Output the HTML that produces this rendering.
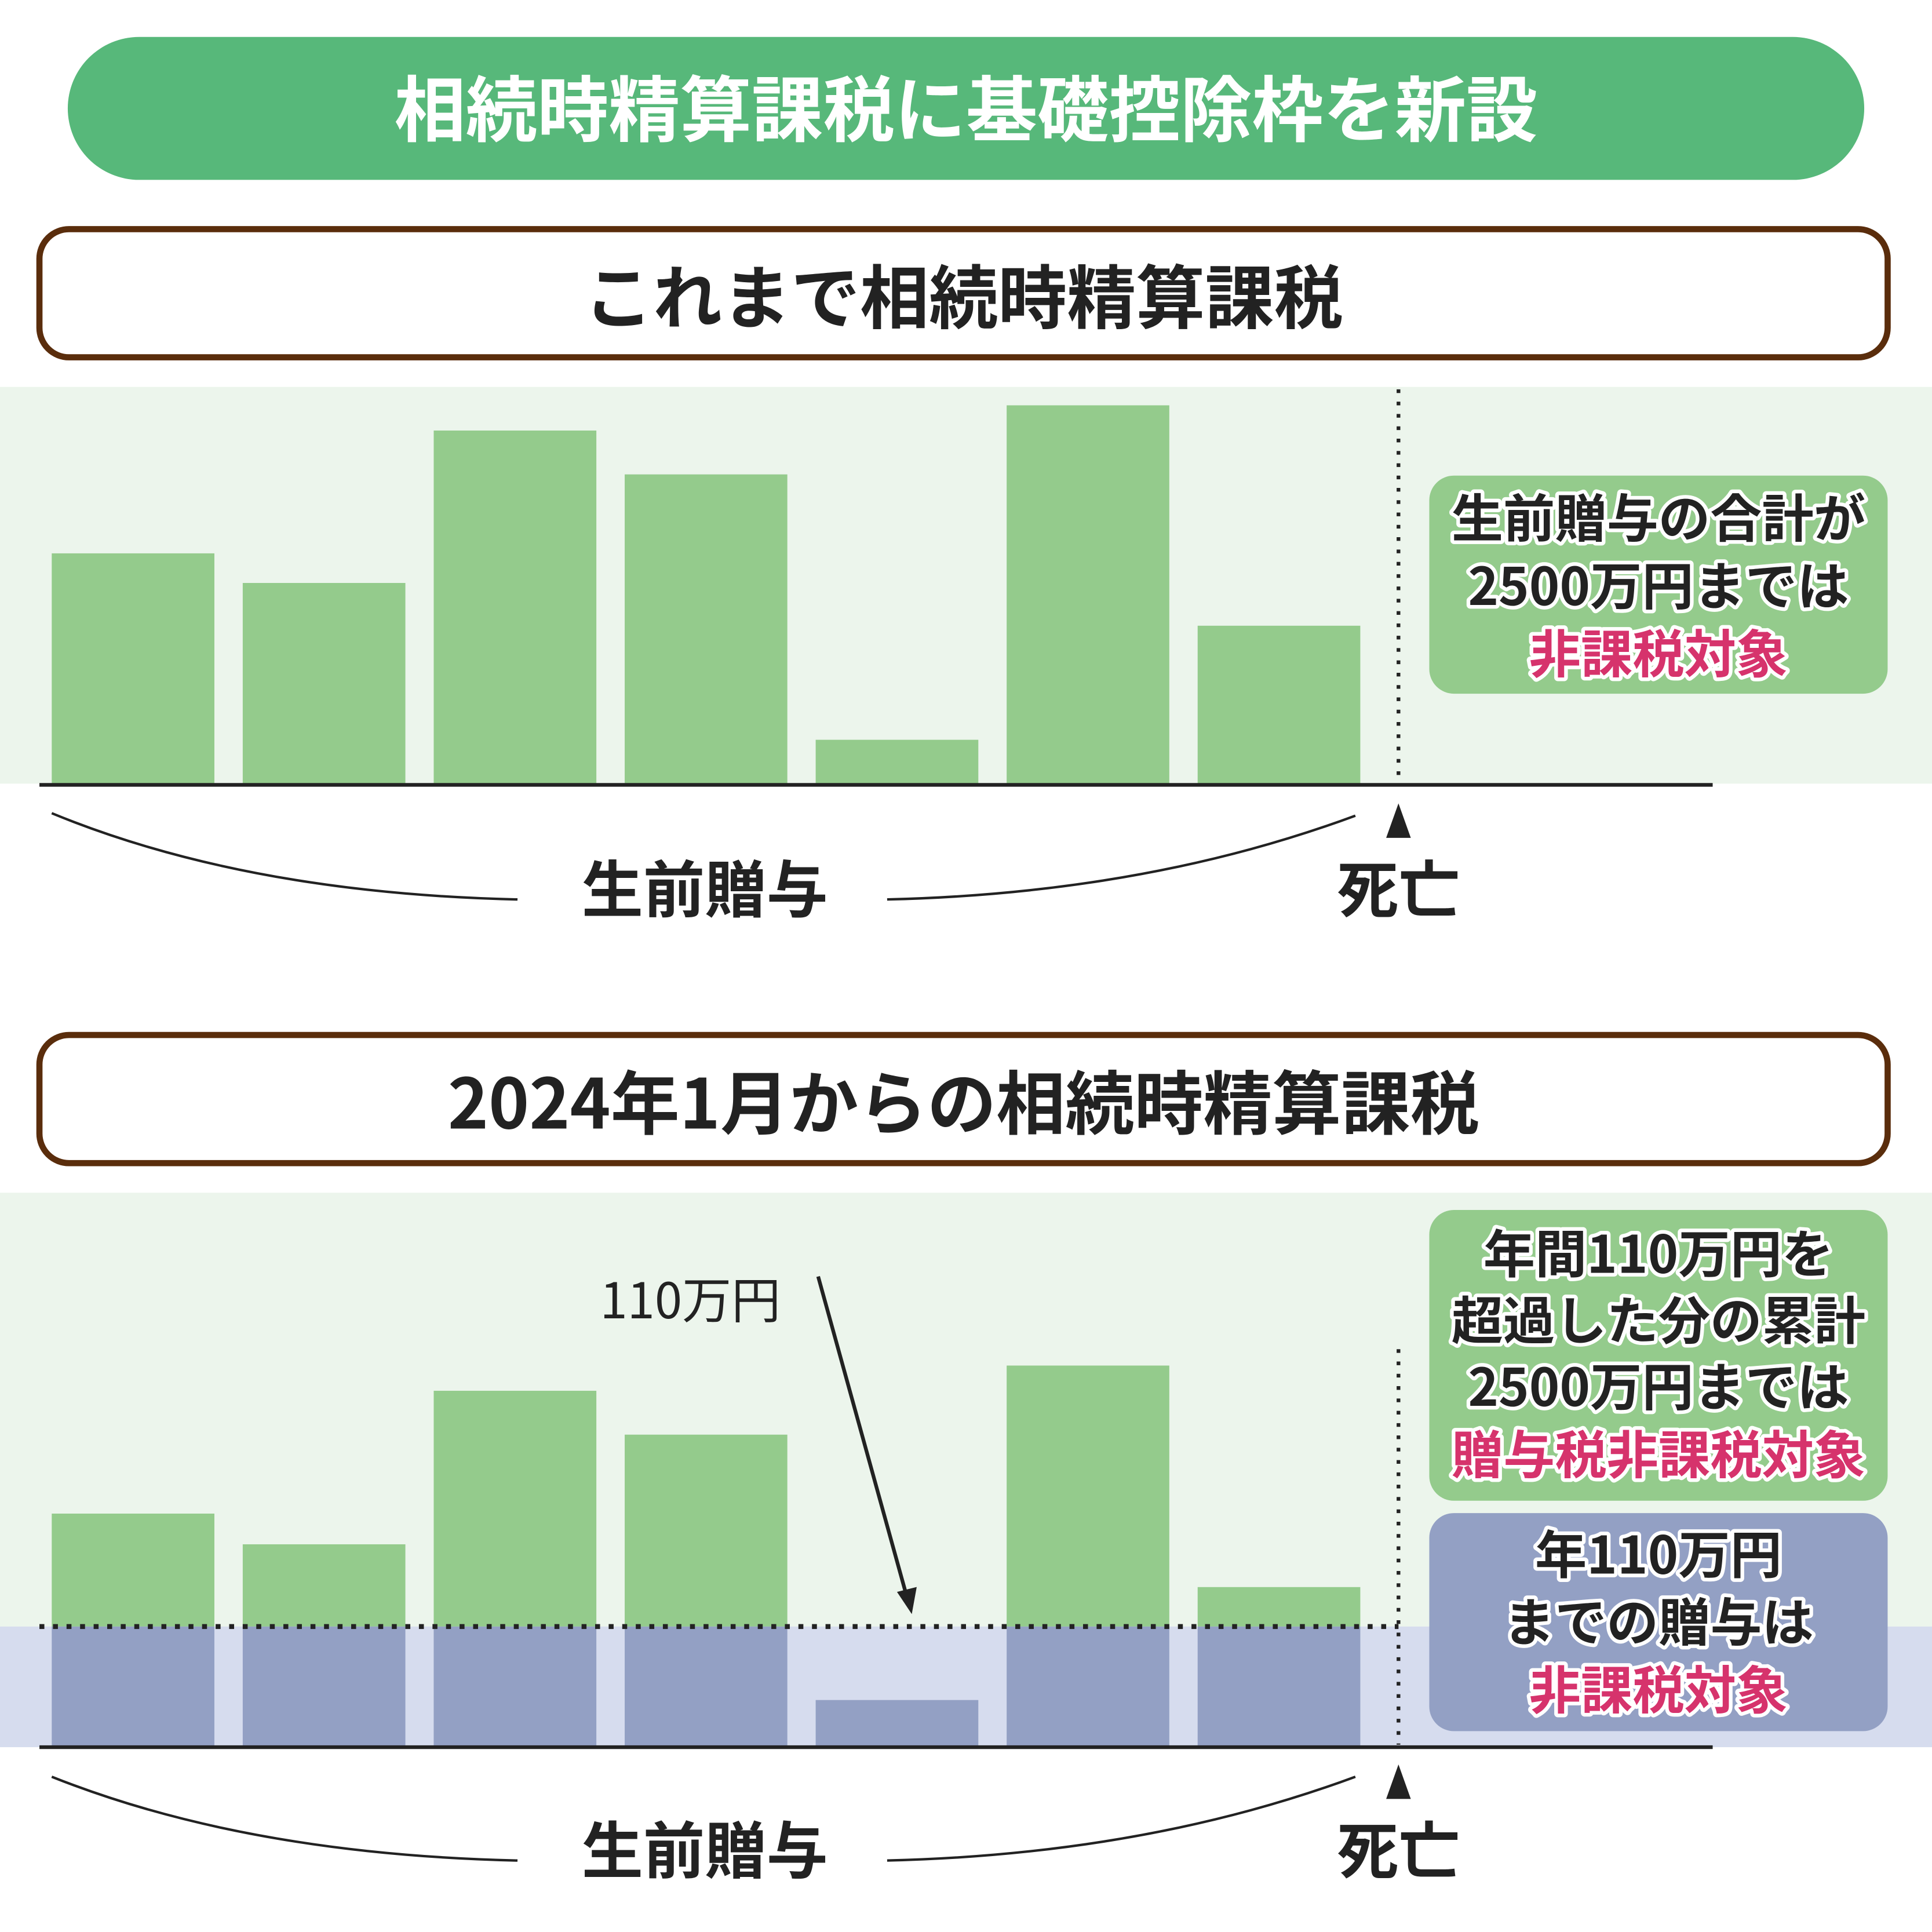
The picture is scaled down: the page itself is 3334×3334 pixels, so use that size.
<!DOCTYPE html>
<html><head><meta charset="utf-8">
<style>
html,body{margin:0;padding:0;background:#fff;}
svg{display:block;}
text{font-family:"Liberation Sans","Noto Sans CJK JP",sans-serif;}
.jp{font-family:"Noto Sans CJK JP","Liberation Sans",sans-serif;font-weight:700;}
.note{font-family:"Noto Sans CJK JP",sans-serif;font-weight:700;font-size:42px;stroke:#fff;stroke-width:6px;paint-order:stroke;stroke-linejoin:round;}
</style></head>
<body>
<svg id="chart" width="3334" height="3334" viewBox="0 0 1568 1568" xmlns="http://www.w3.org/2000/svg">
  <rect x="55" y="30" width="1458" height="116" rx="58" fill="#57b87a"/>
  <text class="jp" x="784" y="110" font-size="58" fill="#fff" text-anchor="middle">相続時精算課税に基礎控除枠を新設</text>

  <rect x="32" y="186" width="1500" height="104" rx="24" fill="#fff" stroke="#5a2d0c" stroke-width="5"/>
  <text class="jp" x="782" y="262" font-size="56" fill="#222" text-anchor="middle">これまで相続時精算課税</text>

  <rect x="0" y="314" width="1568" height="322" fill="#ecf5ec"/>
  <g id="bars1"></g>
  <line x1="1135" y1="316" x2="1135" y2="636" stroke="#222" stroke-width="3" stroke-dasharray="3,7"/>
  <line x1="32" y1="637" x2="1390" y2="637" stroke="#222" stroke-width="3"/>
  <polygon points="1135,652 1125,680 1145,680" fill="#222"/>
  <path d="M42,660 Q200,725 420,730" fill="none" stroke="#222" stroke-width="2"/>
  <path d="M720,730 Q930,725 1100,662" fill="none" stroke="#222" stroke-width="2"/>
  <text class="jp" x="572" y="740" font-size="50" fill="#222" text-anchor="middle">生前贈与</text>
  <text class="jp" x="1135" y="740" font-size="50" fill="#222" text-anchor="middle">死亡</text>

  <rect x="1160" y="386" width="372" height="177" rx="20" fill="#94cb8c"/>
  <text class="note" x="1346" y="436" fill="#222" text-anchor="middle">生前贈与の合計が</text>
  <text class="note" x="1346" y="491" fill="#222" text-anchor="middle">2500万円までは</text>
  <text class="note" x="1346" y="546" fill="#d6336c" text-anchor="middle">非課税対象</text>

  <rect x="32" y="840" width="1500" height="104" rx="24" fill="#fff" stroke="#5a2d0c" stroke-width="5"/>
  <text class="jp" x="782" y="916" font-size="56" fill="#222" text-anchor="middle">2024年1月からの相続時精算課税</text>

  <rect x="0" y="968" width="1568" height="450" fill="#ecf5ec"/>
  <rect id="band" x="0" y="1320" width="1568" height="98" fill="#d6dcee"/>
  <g id="bars2"></g>
  <line id="thrLine" x1="32" y1="1320" x2="1135" y2="1320" stroke="#222" stroke-width="4" stroke-dasharray="4,7"/>
  <line x1="1135" y1="1095" x2="1135" y2="1416" stroke="#222" stroke-width="3" stroke-dasharray="3,7"/>
  <line x1="32" y1="1418" x2="1390" y2="1418" stroke="#222" stroke-width="3"/>
  <text x="487" y="1070" font-size="40" fill="#222" class="jp" style="font-weight:400">110万円</text>
  <line x1="664" y1="1036" x2="736" y2="1296" stroke="#222" stroke-width="3"/>
  <polygon points="740,1310 728,1292 744,1288" fill="#222"/>
  <polygon points="1135,1432 1125,1460 1145,1460" fill="#222"/>
  <path d="M42,1442 Q200,1505 420,1510" fill="none" stroke="#222" stroke-width="2"/>
  <path d="M720,1510 Q930,1505 1100,1442" fill="none" stroke="#222" stroke-width="2"/>
  <text class="jp" x="572" y="1520" font-size="50" fill="#222" text-anchor="middle">生前贈与</text>
  <text class="jp" x="1135" y="1520" font-size="50" fill="#222" text-anchor="middle">死亡</text>

  <rect x="1160" y="982" width="372" height="236" rx="20" fill="#94cb8c"/>
  <text class="note" x="1346" y="1033" fill="#222" text-anchor="middle">年間110万円を</text>
  <text class="note" x="1346" y="1087" fill="#222" text-anchor="middle">超過した分の累計</text>
  <text class="note" x="1346" y="1141" fill="#222" text-anchor="middle">2500万円までは</text>
  <text class="note" x="1346" y="1196" fill="#d6336c" text-anchor="middle">贈与税非課税対象</text>

  <rect x="1160" y="1228" width="372" height="177" rx="20" fill="#93a0c4"/>
  <text class="note" x="1346" y="1277" fill="#222" text-anchor="middle">年110万円</text>
  <text class="note" x="1346" y="1332" fill="#222" text-anchor="middle">までの贈与は</text>
  <text class="note" x="1346" y="1387" fill="#d6336c" text-anchor="middle">非課税対象</text>
</svg>
<script>
const categories = ["year1","year2","year3","year4","year5","year6","year7"];
const gifts1 = [210, 183, 322, 282, 40, 345, 144];
const gifts2 = [213, 185, 325, 285, 43, 348, 146];
const threshold = 110;

const NS = "http://www.w3.org/2000/svg";
const unit = 0.89;
function xPos(i){ return 42 + i * 155; }
const barW = 132;
function yScale(v, base){ return base - v * unit; }

const g1 = document.getElementById('bars1');
gifts1.forEach((v,i)=>{
  const r = document.createElementNS(NS,'rect');
  r.setAttribute('x', xPos(i)); r.setAttribute('width', barW);
  r.setAttribute('y', yScale(v,636)); r.setAttribute('height', v*unit);
  r.setAttribute('fill', '#94cb8c');
  
  
  g1.appendChild(r);
});

const g2 = document.getElementById('bars2');
const thrY = yScale(threshold,1418);
document.getElementById('band').setAttribute('y', thrY);
document.getElementById('band').setAttribute('height', 1418 - thrY);
document.getElementById('thrLine').setAttribute('y1', thrY);
document.getElementById('thrLine').setAttribute('y2', thrY);
gifts2.forEach((v,i)=>{
  const low = Math.min(v, threshold);
  if (v > threshold) {
    const r = document.createElementNS(NS,'rect');
    r.setAttribute('x', xPos(i)); r.setAttribute('width', barW);
    r.setAttribute('y', yScale(v,1418)); r.setAttribute('height', (v-threshold)*unit);
    r.setAttribute('fill', '#94cb8c');
    
    
    g2.appendChild(r);
  }
  const b = document.createElementNS(NS,'rect');
  b.setAttribute('x', xPos(i)); b.setAttribute('width', barW);
  b.setAttribute('y', yScale(low,1418)); b.setAttribute('height', low*unit);
  b.setAttribute('fill', '#93a0c4');
  
  
  g2.appendChild(b);
});
</script>
</body></html>
